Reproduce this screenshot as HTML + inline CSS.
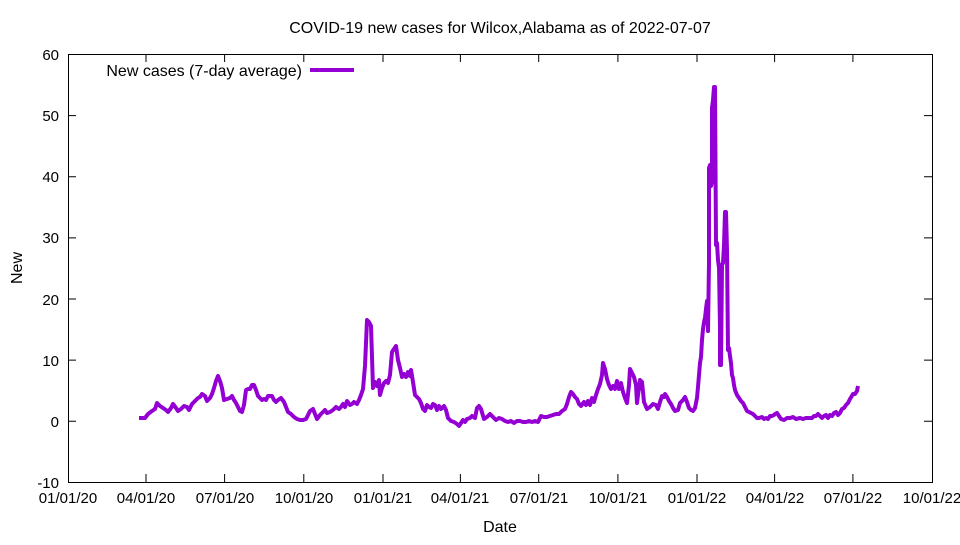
<!DOCTYPE html>
<html><head><meta charset="utf-8"><style>body{margin:0;background:#fff}</style></head><body>
<svg width="960" height="540" xmlns="http://www.w3.org/2000/svg" font-family="Liberation Sans, sans-serif" font-size="15">
<rect width="960" height="540" fill="#fff"/>
<text x="500" y="33" text-anchor="middle" font-size="16">COVID-19 new cases for Wilcox,Alabama as of 2022-07-07</text>
<g stroke="#000" stroke-width="1" fill="none">
<rect x="68.5" y="54.5" width="864" height="428"/>
<path d="M68 115.6h8M932 115.6h-8M68 176.7h8M932 176.7h-8M68 237.9h8M932 237.9h-8M68 299h8M932 299h-8M68 360.1h8M932 360.1h-8M68 421.3h8M932 421.3h-8"/>
<path d="M146 482v-8M146 54v8M224.6 482v-8M224.6 54v8M303.8 482v-8M303.8 54v8M383 482v-8M383 54v8M460.4 482v-8M460.4 54v8M538.7 482v-8M538.7 54v8M617.9 482v-8M617.9 54v8M697 482v-8M697 54v8M774.6 482v-8M774.6 54v8M852.9 482v-8M852.9 54v8"/>
</g>
<g text-anchor="end">
<text x="59" y="60">60</text><text x="59" y="121">50</text><text x="59" y="182">40</text><text x="59" y="243">30</text><text x="59" y="305">20</text><text x="59" y="366">10</text><text x="59" y="427">0</text><text x="59" y="488">-10</text>
</g>
<g text-anchor="middle">
<text x="68" y="503">01/01/20</text><text x="146" y="503">04/01/20</text><text x="225" y="503">07/01/20</text><text x="304" y="503">10/01/20</text><text x="383" y="503">01/01/21</text><text x="460" y="503">04/01/21</text><text x="539" y="503">07/01/21</text><text x="618" y="503">10/01/21</text><text x="697" y="503">01/01/22</text><text x="775" y="503">04/01/22</text><text x="853" y="503">07/01/22</text><text x="932" y="503">10/01/22</text>
<text x="500" y="532" font-size="16">Date</text>
<text transform="translate(22,268) rotate(-90)" font-size="16">New</text>
</g>
<text x="302" y="76" text-anchor="end" font-size="16">New cases (7-day average)</text>
<line x1="310" y1="70" x2="354" y2="70" stroke="#9400D3" stroke-width="4"/>
<polyline fill="none" stroke="#9400D3" stroke-width="4" stroke-linejoin="round" points="139,418 145,418 148,414 152,411 155,409 157,403 160,406 163,408 166,410 168,412 171,408 173,404 176,408 178,411 181,409 184,406 187,407 189,410 192,404 195,401 198,398 200,397 202,394 205,396 207,401 210,398 212,394 214,388 216,381 218,376 220,381 222,388 224,400 227,399 230,398 232,396 234,400 236,403 238,407 240,411 242,412 244,405 246,390 248,389 250,389 252,385 254,385 256,390 258,396 260,398 262,400 264,399 266,400 268,396 270,396 272,396 274,400 276,402 278,400 281,398 284,402 286,407 288,412 291,414 294,417 297,419 300,420 303,420 306,419 308,415 310,411 313,409 315,414 317,419 320,415 322,413 325,410 327,413 330,412 333,410 336,407 339,409 341,407 343,404 345,407 347,401 350,405 352,404 354,402 357,404 359,400 361,395 363,389 365,366 367,320 369,322 371,326 373,388 375,382 377,386 379,380 380,395 382,388 384,383 386,381 388,383 390,375 392,352 394,349 396,346 398,360 400,368 402,377 404,374 406,377 408,372 410,376 411,370 413,382 415,395 417,397 419,399 421,403 423,409 425,411 427,405 429,407 431,408 433,404 435,405 437,410 439,406 441,409 444,406 446,410 448,418 451,421 454,422 457,424 459,426 461,423 463,420 465,422 467,419 470,418 472,416 475,418 477,408 479,406 481,409 484,419 487,417 490,414 493,417 496,420 499,418 502,419 505,421 508,422 511,421 514,423 517,421 520,421 523,422 526,422 529,421 532,422 535,421 538,422 541,416 544,417 547,417 550,416 553,415 556,414 559,414 562,411 565,409 567,404 569,397 571,392 573,394 575,397 577,399 579,404 581,406 584,402 586,405 588,401 590,405 592,398 594,402 596,395 598,389 600,384 602,375 603,363 605,369 607,379 609,385 611,389 613,386 615,389 617,381 619,389 621,383 623,392 625,398 627,403 629,385 630,369 632,373 634,377 636,385 637,403 638,395 640,380 642,382 644,402 647,409 650,407 653,404 656,405 658,409 660,402 662,396 664,397 665,394 667,397 669,401 671,404 673,408 675,411 678,410 680,403 683,400 685,397 687,402 689,408 691,410 693,411 695,408 697,398 698,387 699,375 700,363 701,357 702,340 703,329 704,322 705,318 706,309 707,301 708,331 709,262 709,168 710,165 711,186 712,182 712,108 713,100 714,87 715,87 716,245 717,243 718,260 719,268 720,328 720,365 721,365 722,265 723,263 724,245 725,212 726,212 727,250 728,350 729,348 730,356 731,363 732,375 733,378 734,385 735,390 737,395 739,398 741,401 743,403 745,407 747,411 749,412 751,413 753,414 755,416 757,418 759,418 762,417 764,419 766,418 768,419 770,416 772,416 774,415 775,414 777,413 779,416 781,419 784,420 787,418 790,418 793,417 796,419 800,418 803,419 806,418 809,418 812,418 814,416 816,416 818,414 820,416 822,418 824,416 826,415 828,418 830,415 832,416 834,413 836,412 838,415 840,413 842,409 844,408 846,405 848,403 850,399 853,394 855,394 857,391 858,386"/>
</svg>
</body></html>
